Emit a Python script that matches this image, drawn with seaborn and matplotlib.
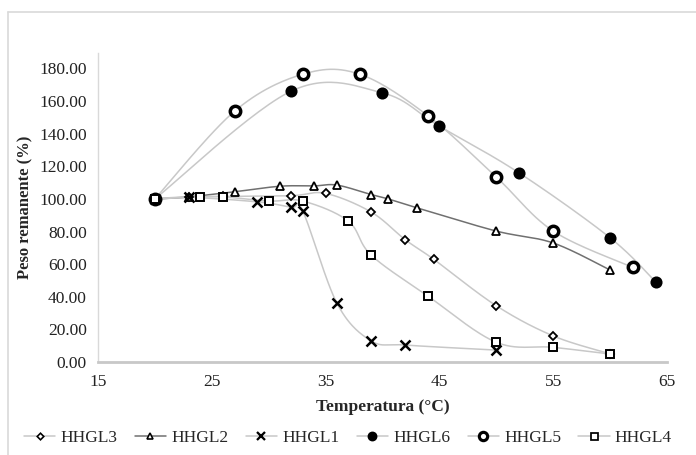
import numpy as np
import matplotlib
matplotlib.use("Agg")
import matplotlib.pyplot as plt
from matplotlib.lines import Line2D
import seaborn as sns

# values (temperature in degC, remaining weight in %)
hhgl3_t = [20, 23, 26, 32, 35, 39, 42, 44.5, 50, 55, 60]
hhgl3_w = [100, 101, 101.5, 102, 103.4, 92, 75, 63, 34.5, 16, 5]

hhgl2_t = [20, 23, 27, 31, 34, 36, 39, 40.5, 43, 50, 55, 60]
hhgl2_w = [100, 101.3, 104.4, 107.8, 108, 108.5, 102.7, 100, 94.6, 80.3, 73, 56.4]

hhgl1_t = [20, 23, 29, 32, 33, 36, 39, 42, 50]
hhgl1_w = [100, 101, 98.2, 94.8, 92.5, 36, 13, 10.4, 7.3]

hhgl6_t = [20, 32, 40, 45, 52, 60, 64]
hhgl6_w = [100, 166.2, 165, 144.6, 116, 76.2, 49.2]

hhgl5_t = [20, 27, 33, 38, 44, 50, 55, 62]
hhgl5_w = [100, 153.8, 176.5, 176.5, 151, 113.4, 80.3, 58]

hhgl4_t = [20, 24, 26, 30, 33, 37, 39, 44, 50, 55, 60]
hhgl4_w = [100, 101.3, 101.3, 98.7, 98.7, 86.4, 65.6, 40.4, 12.1, 9, 4.9]

names = ["HHGL3", "HHGL2", "HHGL1", "HHGL6", "HHGL5", "HHGL4"]
series = {
    "HHGL3": (hhgl3_t, hhgl3_w),
    "HHGL2": (hhgl2_t, hhgl2_w),
    "HHGL1": (hhgl1_t, hhgl1_w),
    "HHGL6": (hhgl6_t, hhgl6_w),
    "HHGL5": (hhgl5_t, hhgl5_w),
    "HHGL4": (hhgl4_t, hhgl4_w),
}

styles = {
    "HHGL3": dict(marker="D", ms=4.2, mfc="white", mew=1.3, lc="#c8c8c8"),
    "HHGL2": dict(marker="^", ms=5.5, mfc="white", mew=1.3, lc="#707070"),
    "HHGL1": dict(marker="x", ms=6.5, mfc="black", mew=1.8, lc="#c8c8c8"),
    "HHGL6": dict(marker="o", ms=7.5, mfc="black", mew=1.2, lc="#c8c8c8"),
    "HHGL5": dict(marker="o", ms=7.5, mfc="white", mew=2.5, lc="#c8c8c8"),
    "HHGL4": dict(marker="s", ms=6.3, mfc="white", mew=1.4, lc="#c8c8c8"),
}


def smooth(t, w, n=30):
    # Excel-style smoothed line: bezier segments with catmull-rom control points
    p = np.column_stack([t, w]).astype(float)
    p = np.vstack([p[0], p, p[-1]])
    out = []
    s = np.linspace(0, 1, n)[:, None]
    for i in range(1, len(p) - 2):
        p0, p1, p2, p3 = p[i - 1], p[i], p[i + 1], p[i + 2]
        c1 = p1 + (p2 - p0) / 6
        c2 = p2 - (p3 - p1) / 6
        seg = ((1 - s) ** 3) * p1 + 3 * ((1 - s) ** 2) * s * c1 + 3 * (1 - s) * s ** 2 * c2 + s ** 3 * p2
        out.append(seg if i == 1 else seg[1:])
    out = np.vstack(out)
    return out[:, 0], out[:, 1]


sns.set_theme(style="white")
plt.rcParams["font.family"] = ["Liberation Serif", "DejaVu Serif"]

fig = plt.figure(figsize=(6.96, 4.55), dpi=100)
ax = fig.add_axes([0.1408, 0.2044, 0.8175, 0.6791])

for name in names:
    t, w = series[name]
    st = styles[name]
    xs, ys = smooth(t, w)
    sns.lineplot(x=xs, y=ys, ax=ax, color=st["lc"], lw=1.1, sort=False, estimator=None)

for name in names:
    t, w = series[name]
    st = styles[name]
    ax.plot(t, w, ls="none", marker=st["marker"], ms=st["ms"], mfc=st["mfc"],
            mec="black", mew=st["mew"], zorder=5)

ax.set_xlim(15, 65)
ax.set_ylim(0, 189.5)
ax.set_xticks([15, 25, 35, 45, 55, 65])
ax.set_yticks(np.arange(0, 181, 20))
ax.set_yticklabels([f"{v:.2f}" for v in np.arange(0, 181, 20)])
ax.tick_params(axis="both", labelsize=12.5, colors="#222222", length=0)
ax.tick_params(axis="x", pad=9)
ax.tick_params(axis="y", pad=8)

for side in ["top", "right"]:
    ax.spines[side].set_visible(False)
ax.spines["left"].set_color("#d9d9d9")
ax.spines["left"].set_linewidth(1.0)
ax.spines["bottom"].set_color("#c8c8c8")
ax.spines["bottom"].set_linewidth(2.0)

ax.set_xlabel("Temperatura (°C)", fontsize=12.5, fontweight="bold", labelpad=6)
ax.set_ylabel("Peso remanente (%)", fontsize=12, fontweight="bold", labelpad=4)

handles = []
for name in names:
    st = styles[name]
    handles.append(Line2D([0], [0], color="#707070" if name == "HHGL2" else "#c8c8c8", lw=1.1,
                          marker=st["marker"], ms=st["ms"] * 0.8, mfc=st["mfc"], mec="black",
                          mew=st["mew"] * 0.9))
fig.legend(handles, names, loc="center", bbox_to_anchor=(0.5, 0.037), ncol=6, frameon=False,
           fontsize=12.5, handlelength=1.8, handletextpad=0.3, columnspacing=1.0)

# chart area border
fig.add_artist(Line2D([8 / 696, 8 / 696], [0, 1 - 12 / 455], transform=fig.transFigure,
                      color="#d9d9d9", lw=1.2))
fig.add_artist(Line2D([8 / 696, 1], [1 - 12 / 455, 1 - 12 / 455], transform=fig.transFigure,
                      color="#d9d9d9", lw=1.2))

fig.savefig("out.png", dpi=100)
